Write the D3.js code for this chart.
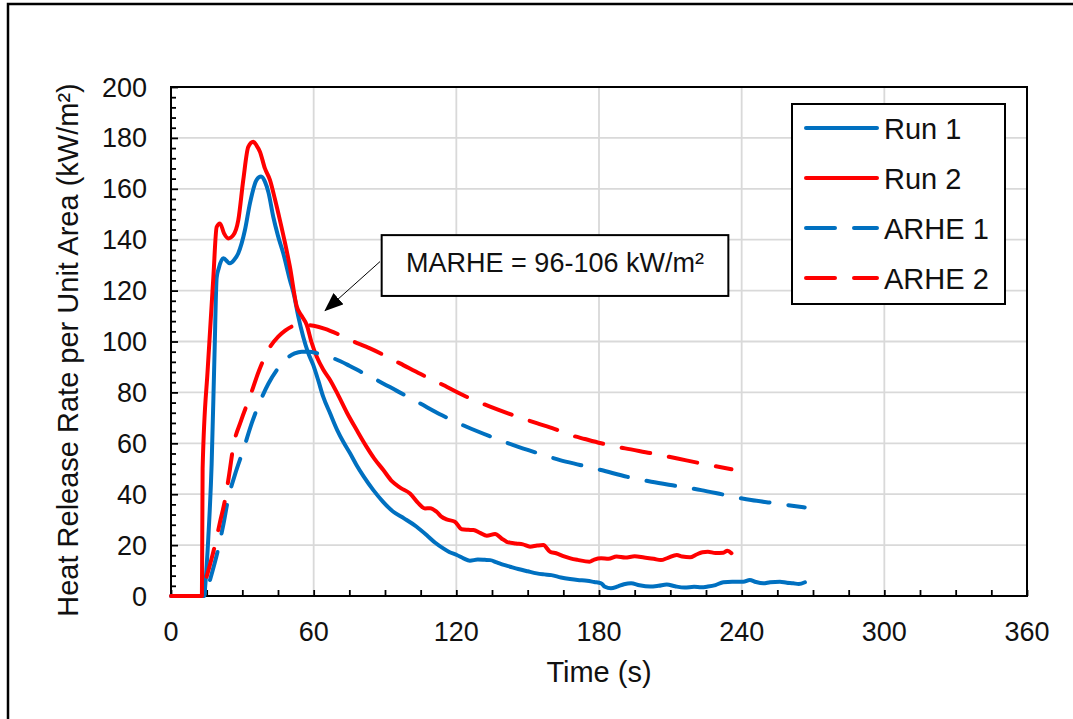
<!DOCTYPE html>
<html>
<head>
<meta charset="utf-8">
<script src="https://cdn.jsdelivr.net/npm/d3@7"></script>
<style>
  body { margin: 0; background: #fff; }
  svg text { font-family: "Liberation Sans", Arial, sans-serif; fill: #111; }
</style>
</head>
<body>
<div id="chart"></div>
<script>
// data: [time s, kW/m2]
var run1 = [[0,0],[14,0],[14.4,4],[15.7,23],[17.1,52],[18.3,95],[19.2,125],[20,128.5],[22,132.7],[24.8,130.7],[26.5,132],[28.3,134.7],
  [31.1,143.8],[33.2,154.3],[36,163.5],[37.9,164.8],[39.5,162.8],[41,158.5],[43,149],[45,141.5],[47.2,134.7],[50,124.2],[51.8,118],
  [53.5,110],[55.6,101.9],[57.5,96],[59.8,90.8],[62,84.5],[64,78.3],[66.9,71.8],[70,65],[72.5,60.5],[75.3,56.1],[78,51.5],[81,47],
  [85.1,41.6],[89,37.2],[93.5,33.1],[98,30.5],[103.3,27.2],[108,23.5],[111,21],[114.5,18.7],[117,17.3],[120.2,16.1],[123,14.8],
  [125.7,13.9],[129,14.3],[132,14.2],[134.2,14.1],[137,13.2],[140,12.2],[142.6,11.5],[146,10.6],[150,9.7],[153.8,8.9],[157,8.5],
  [160,8.2],[164,7.3],[167.8,6.7],[171,6.3],[175,6.0],[178,5.5],[180.9,5.0],[182.5,3.6],[185,3.0],[188,3.8],[190.5,4.6],[193.5,5.0],
  [197,4.2],[201.5,3.7],[205,4.0],[208.5,4.5],[212,3.8],[216,3.3],[220,3.6],[223,3.4],[225.8,3.7],[229,4.3],[232.3,5.4],[236,5.6],
  [240.7,5.6],[243.4,6.3],[246,5.5],[249.1,5.0],[252,5.4],[256.1,5.6],[259,5.2],[261.7,5.0],[264,4.7],[266.6,5.4]];

var run2 = [[0,0],[13,0],[13.3,50],[15.5,90],[17.8,125],[19.2,145],[20.6,146.4],[22.3,142.5],[24.1,140.5],[26.2,141.8],[28.3,147.7],
  [30.4,163.5],[32.5,176.5],[34.6,178.5],[36,177],[37.4,174.6],[39.5,168],[41.6,163.5],[43.7,156],[45.8,147.7],[48,138.5],[50,129.4],
  [52.9,113.7],[55,110],[57.1,106.5],[59,100],[61.3,94],[64,89],[66.9,84.9],[70,79.5],[74,72],[78.1,65.2],[82,59],[85.5,54],
  [89.3,49.5],[93,45],[96.5,42.5],[100.5,40.3],[104,36.5],[106.8,34.4],[109,34.5],[111.7,33.1],[113.7,31.2],[115.9,30.1],[119.4,29.2],
  [122.3,26.2],[125,26],[127.2,25.9],[130,24.8],[132.8,23.7],[136.3,24.4],[139,22.6],[141.2,21.3],[145,20.6],[148,20.3],[151,19.4],
  [154,19.8],[156.6,20],[159.4,17.4],[162,16.8],[165,15.7],[168,14.8],[171,14.2],[176,13.5],[178,14.3],[180.9,14.8],[184,14.6],
  [187.4,15.5],[191,15.1],[195,15.6],[199,15.1],[203,14.6],[206,14.1],[209,15.0],[212.7,16.1],[215,15.5],[218.3,15.2],[221,16.3],
  [223.5,17.2],[225.8,17.4],[229,16.9],[232.3,17.0],[234,17.8],[235.7,16.8]];

var arhe1 = [[16.4,6.3],[19.9,18.7],[22,28],[24.1,38.4],[27,48],[30.4,57.4],[34,68],[37.4,76.3],[41,83.5],[44.5,88.8],[48.7,93.4],
  [52,95.3],[55,96],[58,96],[61.3,95.4],[64,94.6],[68.3,93.4],[75,90.5],[80,88],[86.5,84.9],[95,80.6],[104.7,75.7],[114,71],
  [124.3,66.5],[134,62.8],[144,59.3],[154,56.2],[163.6,53.4],[172,51.5],[180.9,49.5],[192,46.8],[202,44.9],[212,43.3],[223,41.6],
  [233,39.7],[244,37.7],[255,36.3],[266.5,34.8]];

var arhe2 = [[15,7.6],[18.5,20],[20.6,29],[22.7,37.7],[24.5,48],[26.2,58.7],[29.5,69],[33.2,78.3],[37,88.5],[40.9,96.7],[45.1,101.9],
  [48,104.3],[51.4,106.1],[54,106.5],[57.1,106.5],[60,106.2],[64.8,105],[70,103],[75.3,100.6],[83.7,97.3],[96.3,91.4],[105,87.2],
  [114.5,82.9],[124,78.4],[134.2,74.4],[144,71],[153.8,67.9],[161.2,65.7],[167.8,63.3],[174,61.7],[180.9,60],[191,58],[202,56.1],
  [213,54],[224,51.9],[235.7,49.8]];

var seriesNames = ['Run 1', 'Run 2', 'ARHE 1', 'ARHE 2'];
var xTicks = [0, 60, 120, 180, 240, 300, 360];
var yTicks = [0, 20, 40, 60, 80, 100, 120, 140, 160, 180, 200];
var noteText = 'MARHE = 96-106 kW/m\u00b2';

var width = 1073, height = 719;
var plotLeft = 171, plotTop = 87, plotW = 856, plotH = 509;
var blue = '#0070C0', red = '#FF0000';

var svg = d3.select('#chart').append('svg')
  .attr('width', width).attr('height', height);

// outer chart frame (runs off the right / bottom edge)
svg.append('rect').attr('x', 8).attr('y', 4).attr('width', 1090).attr('height', 740)
  .attr('fill', 'none').attr('stroke', '#000').attr('stroke-width', 2.5);

var x = d3.scaleLinear().domain([0, 360]).range([plotLeft, plotLeft + plotW]);
var y = d3.scaleLinear().domain([0, 200]).range([plotTop + plotH, plotTop]);

var g = svg.append('g');

// gridlines
g.selectAll('.vgrid').data(xTicks.slice(1, -1)).enter().append('line')
  .attr('x1', d => x(d)).attr('x2', d => x(d)).attr('y1', plotTop).attr('y2', plotTop + plotH)
  .attr('stroke', '#d9d9d9').attr('stroke-width', 1.8);
g.selectAll('.hgrid').data(yTicks.slice(1, -1)).enter().append('line')
  .attr('y1', d => y(d)).attr('y2', d => y(d)).attr('x1', plotLeft).attr('x2', plotLeft + plotW)
  .attr('stroke', '#d9d9d9').attr('stroke-width', 1.8);

// axes with inward ticks
var xAxis = svg.append('g').attr('transform', 'translate(0,' + (plotTop + plotH) + ')')
  .call(d3.axisBottom(x).tickValues(d3.range(0, 361, 15)).tickSize(-6).tickFormat(''));
var yAxis = svg.append('g').attr('transform', 'translate(' + plotLeft + ',0)')
  .call(d3.axisLeft(y).tickValues(d3.range(0, 201, 4)).tickSize(-5).tickFormat(''));
yAxis.selectAll('.tick line').filter(d => d % 20 === 0).attr('x2', 7);
[xAxis, yAxis].forEach(function(a) {
  a.select('.domain').remove();
  a.selectAll('.tick line').attr('stroke', '#000').attr('stroke-width', 1.8);
});

svg.append('rect').attr('x', plotLeft).attr('y', plotTop).attr('width', plotW).attr('height', plotH)
  .attr('fill', 'none').attr('stroke', '#000').attr('stroke-width', 2);

// tick labels
svg.selectAll('.xlab').data(xTicks).enter().append('text')
  .attr('x', d => x(d)).attr('y', plotTop + plotH + 45)
  .attr('text-anchor', 'middle').attr('font-size', 27).text(d => d);
svg.selectAll('.ylab').data(yTicks).enter().append('text')
  .attr('x', plotLeft - 24).attr('y', d => y(d) + 9.5)
  .attr('text-anchor', 'end').attr('font-size', 27).text(d => d);

svg.append('text').attr('x', x(180)).attr('y', 682)
  .attr('text-anchor', 'middle').attr('font-size', 29).text('Time (s)');
svg.append('text').attr('transform', 'translate(78,' + 350 + ') rotate(-90)')
  .attr('text-anchor', 'middle').attr('font-size', 29)
  .text('Heat Release Rate per Unit Area (kW/m\u00b2)');

// series
var line = d3.line().x(d => x(d[0])).y(d => y(d[1])).curve(d3.curveMonotoneX);
var series = [
  { data: run1, color: blue, dash: null },
  { data: run2, color: red, dash: null },
  { data: arhe1, color: blue, dash: '29,19' },
  { data: arhe2, color: red, dash: '29,19' }
];
series.forEach(function(s) {
  svg.append('path').datum(s.data).attr('d', line)
    .attr('fill', 'none').attr('stroke', s.color).attr('stroke-width', 4)
    .attr('stroke-linecap', 'round').attr('stroke-linejoin', 'round')
    .attr('stroke-dasharray', s.dash);
});

// annotation
svg.append('defs').append('marker').attr('id', 'arr')
  .attr('markerUnits', 'userSpaceOnUse').attr('markerWidth', 19).attr('markerHeight', 15)
  .attr('refX', 18).attr('refY', 7.5).attr('orient', 'auto')
  .append('path').attr('d', 'M0,0 L19,7.5 L0,15 Z').attr('fill', '#000');
svg.append('line')
  .attr('x1', x(87.9)).attr('y1', y(131.4)).attr('x2', x(64.8)).attr('y2', y(112.1))
  .attr('stroke', '#000').attr('stroke-width', 1).attr('marker-end', 'url(#arr)');
svg.append('rect').attr('x', x(88.6)).attr('y', y(141.8))
  .attr('width', x(234.4) - x(88.6)).attr('height', y(117.9) - y(141.8))
  .attr('fill', '#fff').attr('stroke', '#000').attr('stroke-width', 2);
svg.append('text').attr('x', (x(88.6) + x(234.4)) / 2).attr('y', y(127.2))
  .attr('text-anchor', 'middle').attr('font-size', 27).text(noteText);

// legend
var leg = svg.append('g').attr('transform', 'translate(792,104)');
leg.append('rect').attr('width', 213).attr('height', 200)
  .attr('fill', '#fff').attr('stroke', '#000').attr('stroke-width', 2);
var rows = leg.selectAll('.row').data(series).enter().append('g')
  .attr('transform', (d, i) => 'translate(0,' + (24 + i * 50) + ')');
rows.append('line').attr('x1', 14).attr('x2', 85)
  .attr('stroke', d => d.color).attr('stroke-width', 4).attr('stroke-linecap', 'round')
  .attr('stroke-dasharray', d => d.dash);
rows.append('text').attr('x', 92).attr('y', 10.5).attr('font-size', 29)
  .text((d, i) => seriesNames[i]);
</script>
</body>
</html>
